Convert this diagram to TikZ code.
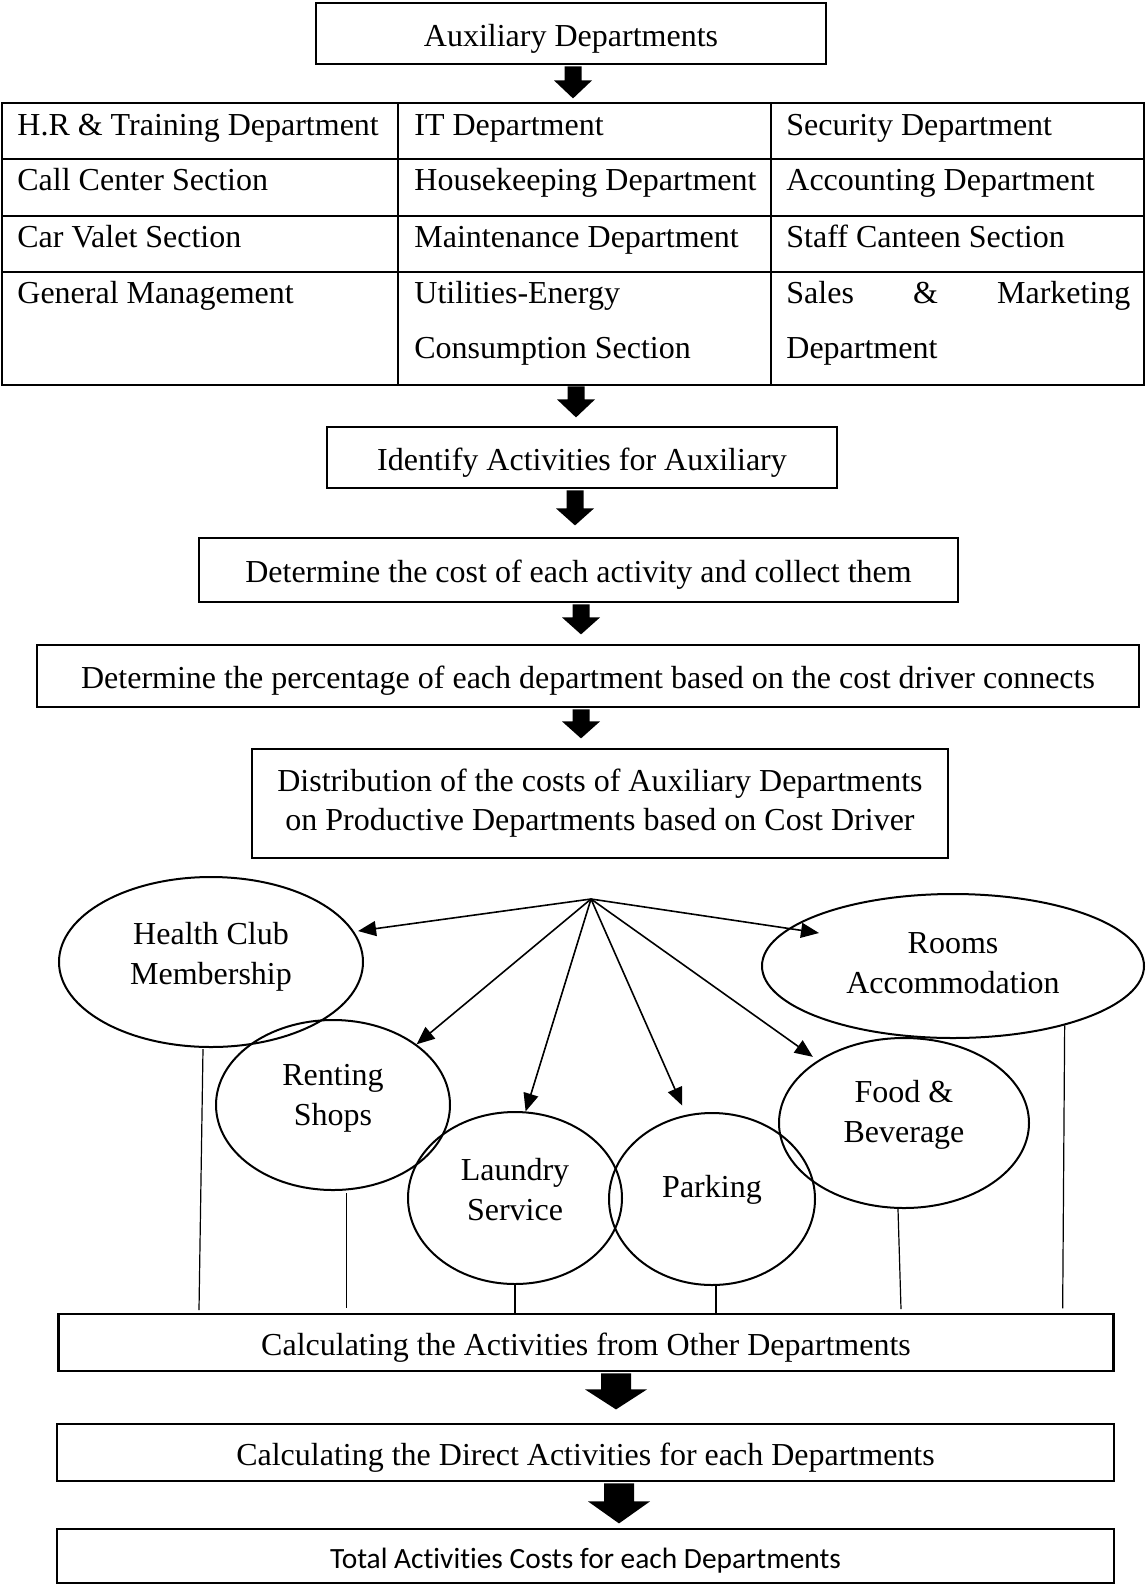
\documentclass[tikz,border=0pt]{standalone}
\usepackage{fontspec}
\setmainfont{Liberation Serif}
\newfontfamily\calibri[Ligatures=NoCommon]{Carlito}
\usetikzlibrary{shapes.geometric,arrows.meta,calc}

% solid block arrow pointing down: start point, shaft half width,
% head half width, shaft length, head length
\newcommand\downblock[5]{%
  \fill (#1) ++(-#2,0) -- ++(0,#4) -- ++({#2-#3},0) -- ++(#3,#5)
    -- ++(#3,-#5) -- ++({#2-#3},0) -- ++(0,-#4) -- cycle;}

\begin{document}
\begin{tikzpicture}[x=0.5pt,y=-0.5pt,
  font=\fontsize{16pt}{20pt}\selectfont,
  stepbox/.style={draw,line width=1.4pt,inner sep=0pt,align=center},
  oneline/.style={text height=12.8pt,text depth=0pt},
  cellline/.style={line width=1.3pt},
  celltext/.style={anchor=base west,inner sep=0pt},
  dept/.style={ellipse,draw,line width=1pt,inner sep=0pt},
  spoke/.style={line width=0.8pt,-{Triangle[length=9pt,width=7.5pt]}},
  drop/.style={line width=0.6pt}]
\useasboundingbox (0,0) rectangle (1146,1585);

% ---- top box
\node[stepbox,oneline,minimum width=255pt,minimum height=30.5pt] (aux) at (571,33.5) {Auxiliary Departments};

% ---- table of auxiliary departments
\node[inner sep=0pt,minimum width=571pt,minimum height=141pt] (table) at (573,244) {};
\draw[cellline] (2,103) rectangle (1144,385);
\draw[cellline] (2,159) -- (1144,159) (2,216) -- (1144,216) (2,272) -- (1144,272);
\draw[cellline] (398,103) -- (398,385) (771,103) -- (771,385);

\node[celltext] (c11) at (17,135) {H.R \& Training Department};
\node[celltext] (c12) at (414,135) {IT Department};
\node[celltext] (c13) at (786,135) {Security Department};
\node[celltext] (c21) at (17,190) {Call Center Section};
\node[celltext] (c22) at (414,190) {Housekeeping Department};
\node[celltext] (c23) at (786,190) {Accounting Department};
\node[celltext] (c31) at (17,247) {Car Valet Section};
\node[celltext] (c32) at (414,247) {Maintenance Department};
\node[celltext] (c33) at (786,247) {Staff Canteen Section};
\node[celltext] (c41) at (17,303) {General Management};
\node[celltext] (c42) at (414,303) {Utilities-Energy};
\node[celltext] (c42b) at (414,358) {Consumption Section};
\node[celltext] (c43) at (786,303) {\hbox to 172pt{Sales\hfill\&\hfill Marketing}};
\node[celltext] (c43b) at (786,358) {Department};

% ---- process boxes
\node[stepbox,oneline,minimum width=255pt,minimum height=30.5pt] (identify) at (582,457.5) {Identify Activities for Auxiliary};
\node[stepbox,oneline,minimum width=379.5pt,minimum height=32pt] (cost) at (578.5,570) {Determine the cost of each activity and collect them};
\node[stepbox,oneline,minimum width=551pt,minimum height=31pt] (pct) at (588,676) {Determine the percentage of each department based on the cost driver connects};
\node[stepbox,minimum width=348pt,minimum height=54.5pt,font=\fontsize{16pt}{19.5pt}\selectfont] (distrib) at (600,803.5) {Distribution of the costs of Auxiliary Departments\\on Productive Departments based on Cost Driver};

\node[stepbox,oneline,minimum width=527.75pt,minimum height=28.5pt] (calc1) at (586,1342.5) {Calculating the Activities from Other Departments};
\node[stepbox,oneline,minimum width=528.5pt,minimum height=28.5pt] (calc2) at (585.5,1452.5) {Calculating the Direct Activities for each Departments};
\node[stepbox,minimum width=528.5pt,minimum height=27pt,text height=12pt,text depth=0pt,font=\calibri\fontsize{14.7pt}{16pt}\selectfont] (total) at (585.5,1556) {Total Activities Costs for each Departments};

% ---- block arrows between the steps
\downblock{$(aux.south)+(2,1)$}{8.5}{19}{14}{18}
\downblock{$(table.south)+(3,1)$}{8.5}{19}{13}{18}
\downblock{$(identify.south)+(-7,1)$}{8.5}{19}{18}{17}
\downblock{$(cost.south)+(2.5,1)$}{8.5}{19}{13}{17}
\downblock{$(pct.south)+(-7,1)$}{8.5}{19}{12}{17}
\downblock{$(calc1.south)+(30,1)$}{15}{31}{16}{20}
\downblock{$(calc2.south)+(33.5,1)$}{15}{31}{18}{22}

% ---- productive departments
\node[dept,minimum width=152pt,minimum height=85pt] (health) at (211,962) {};
\node[dept,minimum width=191pt,minimum height=72pt] (rooms) at (953,966) {};
\node[dept,minimum width=117pt,minimum height=85pt] (renting) at (333,1105) {};
\node[dept,minimum width=107pt,minimum height=86pt] (laundry) at (515,1198) {};
\node[dept,minimum width=103pt,minimum height=86pt] (parking) at (712,1199) {};
\node[dept,minimum width=125pt,minimum height=85pt] (food) at (904,1123) {};

\node[align=center,inner sep=0pt] (healthT) at ($(health)+(0,-5)$) {Health Club\\Membership};
\node[align=center,inner sep=0pt] (roomsT) at ($(rooms)+(0,-3)$) {Rooms\\Accommodation};
\node[align=center,inner sep=0pt] (rentingT) at ($(renting)+(0,-7)$) {Renting\\Shops};
\node[align=center,inner sep=0pt] (laundryT) at ($(laundry)+(0,-8)$) {Laundry\\Service};
\node[inner sep=0pt] (parkingT) at ($(parking)+(0,-9)$) {Parking};
\node[align=center,inner sep=0pt] (foodT) at ($(food)+(0,-8)$) {Food \&\\Beverage};

% ---- distribution spokes
\coordinate (hub) at (591,899);
\coordinate (roomsTip) at ($(rooms.center)+(-134,-33)$);
\draw[spoke,shorten >=2pt] (hub) -- (health.12);
\draw[spoke] (hub) -- (roomsTip);
\draw[spoke] (hub) -- (renting.36);
\draw[spoke] (hub) -- (laundry.83);
\draw[spoke,shorten >=5pt] (hub) -- (parking.107);
\draw[spoke,shorten >=3pt] (hub) -- (food.144);

% ---- drop lines into the activities box
\draw[drop] ($(health.south)+(-8,1)$) -- ++(-4,261);
\draw[drop] ($(renting.-81)+(0,3)$) -- ++(0,115);
\draw[drop] (laundry.south) -- (laundry.south |- calc1.north);
\draw[drop] ($(parking.south)+(4,0)$) -- ($(parking.south |- calc1.north)+(4,0)$);
\draw[drop] ($(food.south)+(-6,0)$) -- ++(3,100);
\draw[drop] (rooms.-28) -- ++(-2,283);
\end{tikzpicture}
\end{document}
